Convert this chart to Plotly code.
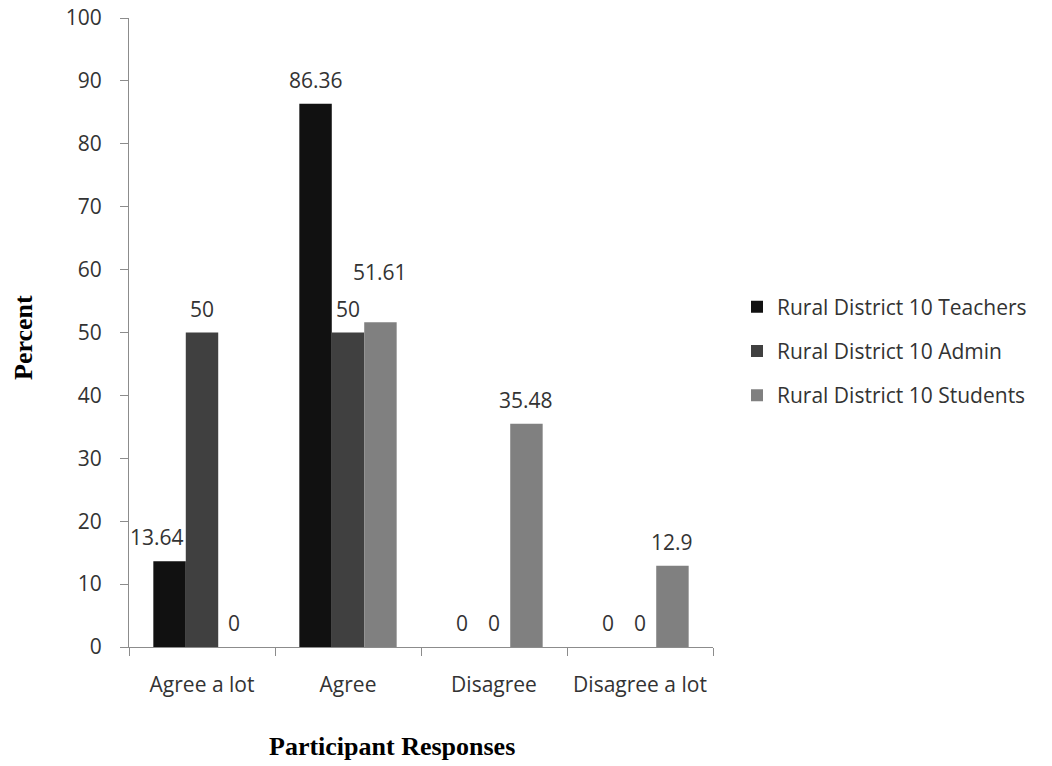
import plotly.graph_objects as go

# Survey responses, percent of each group
categories = ["Agree a lot", "Agree", "Disagree", "Disagree a lot"]
series_names = [
    "Rural District 10 Teachers",
    "Rural District 10 Admin",
    "Rural District 10 Students",
]
teachers = [13.64, 86.36, 0, 0]
admin = [50, 50, 0, 0]
students = [0, 51.61, 35.48, 12.9]
y_ticks = [0, 10, 20, 30, 40, 50, 60, 70, 80, 90, 100]

series_values = [teachers, admin, students]
colors = ["#111111", "#404040", "#808080"]

BARGAP = 1 / 3
LABEL_FONT = dict(family="Open Sans", size=21, color="#333333")

fig = go.Figure()
for k, (name, vals, col) in enumerate(zip(series_names, series_values, colors)):
    fig.add_trace(
        go.Bar(
            x=categories,
            y=vals,
            name=name,
            marker=dict(color=col, line=dict(width=0)),
            legendgroup=name,
        )
    )

# Value labels above each bar; a couple are nudged to clear neighbouring marks
nudges = {(2, 1): (0, 50), (0, 0): (-13, 24)}
n = len(series_values)
slot = (1 - BARGAP) / n
annotations = []
for k, vals in enumerate(series_values):
    for j, v in enumerate(vals):
        dx, dy = nudges.get((k, j), (0, 24))
        annotations.append(
            dict(
                x=j + (k - (n - 1) / 2) * slot,
                y=v,
                xref="x",
                yref="y",
                text=f"{v:g}",
                showarrow=False,
                xanchor="center",
                yanchor="middle",
                xshift=dx,
                yshift=dy,
                font=LABEL_FONT,
            )
        )

# Axis titles placed in pixel terms, converted to paper coordinates
L, R, T, B = 129, 339, 18, 119
W, H = 1052, 766
pw, ph = W - L - R, H - T - B
TITLE_FONT = dict(family="Liberation Serif", size=26, color="#000000")

annotations.append(
    dict(
        x=(392 - L) / pw, y=(H - B - 746) / ph, xref="paper", yref="paper",
        xanchor="center", yanchor="middle",
        text="<b>Participant Responses</b>", showarrow=False, font=TITLE_FONT,
    )
)
annotations.append(
    dict(
        x=(23 - L) / pw, y=(H - B - 338) / ph, xref="paper", yref="paper",
        xanchor="center", yanchor="middle", textangle=-90,
        text="<b>Percent</b>", showarrow=False, font=TITLE_FONT,
    )
)

fig.update_layout(
    width=W,
    height=H,
    margin=dict(l=L, r=R, t=T, b=B, autoexpand=False),
    paper_bgcolor="white",
    plot_bgcolor="white",
    barmode="group",
    bargap=BARGAP,
    bargroupgap=0,
    font=dict(family="Open Sans", size=21, color="#333333"),
    annotations=annotations,
    legend=dict(
        x=(737 - L) / pw,
        xanchor="left",
        y=(H - B - 351) / ph,
        yanchor="middle",
        font=dict(family="Open Sans", size=21, color="#333333"),
        tracegroupgap=14,
        bgcolor="rgba(0,0,0,0)",
    ),
    xaxis=dict(
        type="category",
        range=[-0.5, 3.5],
        showline=True,
        linecolor="#8c8c8c",
        linewidth=1,
        ticks="outside",
        tickson="boundaries",
        ticklen=8,
        tickcolor="#8c8c8c",
        showgrid=False,
        zeroline=False,
        ticklabelstandoff=19,
        tickfont=dict(family="Open Sans", size=21, color="#333333"),
    ),
    yaxis=dict(
        range=[0, 100],
        tickvals=y_ticks,
        showline=True,
        linecolor="#8c8c8c",
        linewidth=1,
        ticks="outside",
        ticklen=8,
        tickcolor="#8c8c8c",
        showgrid=False,
        zeroline=False,
        ticklabelstandoff=14,
        tickfont=dict(family="Open Sans", size=21, color="#333333"),
    ),
)

fig.write_html("out.html")
